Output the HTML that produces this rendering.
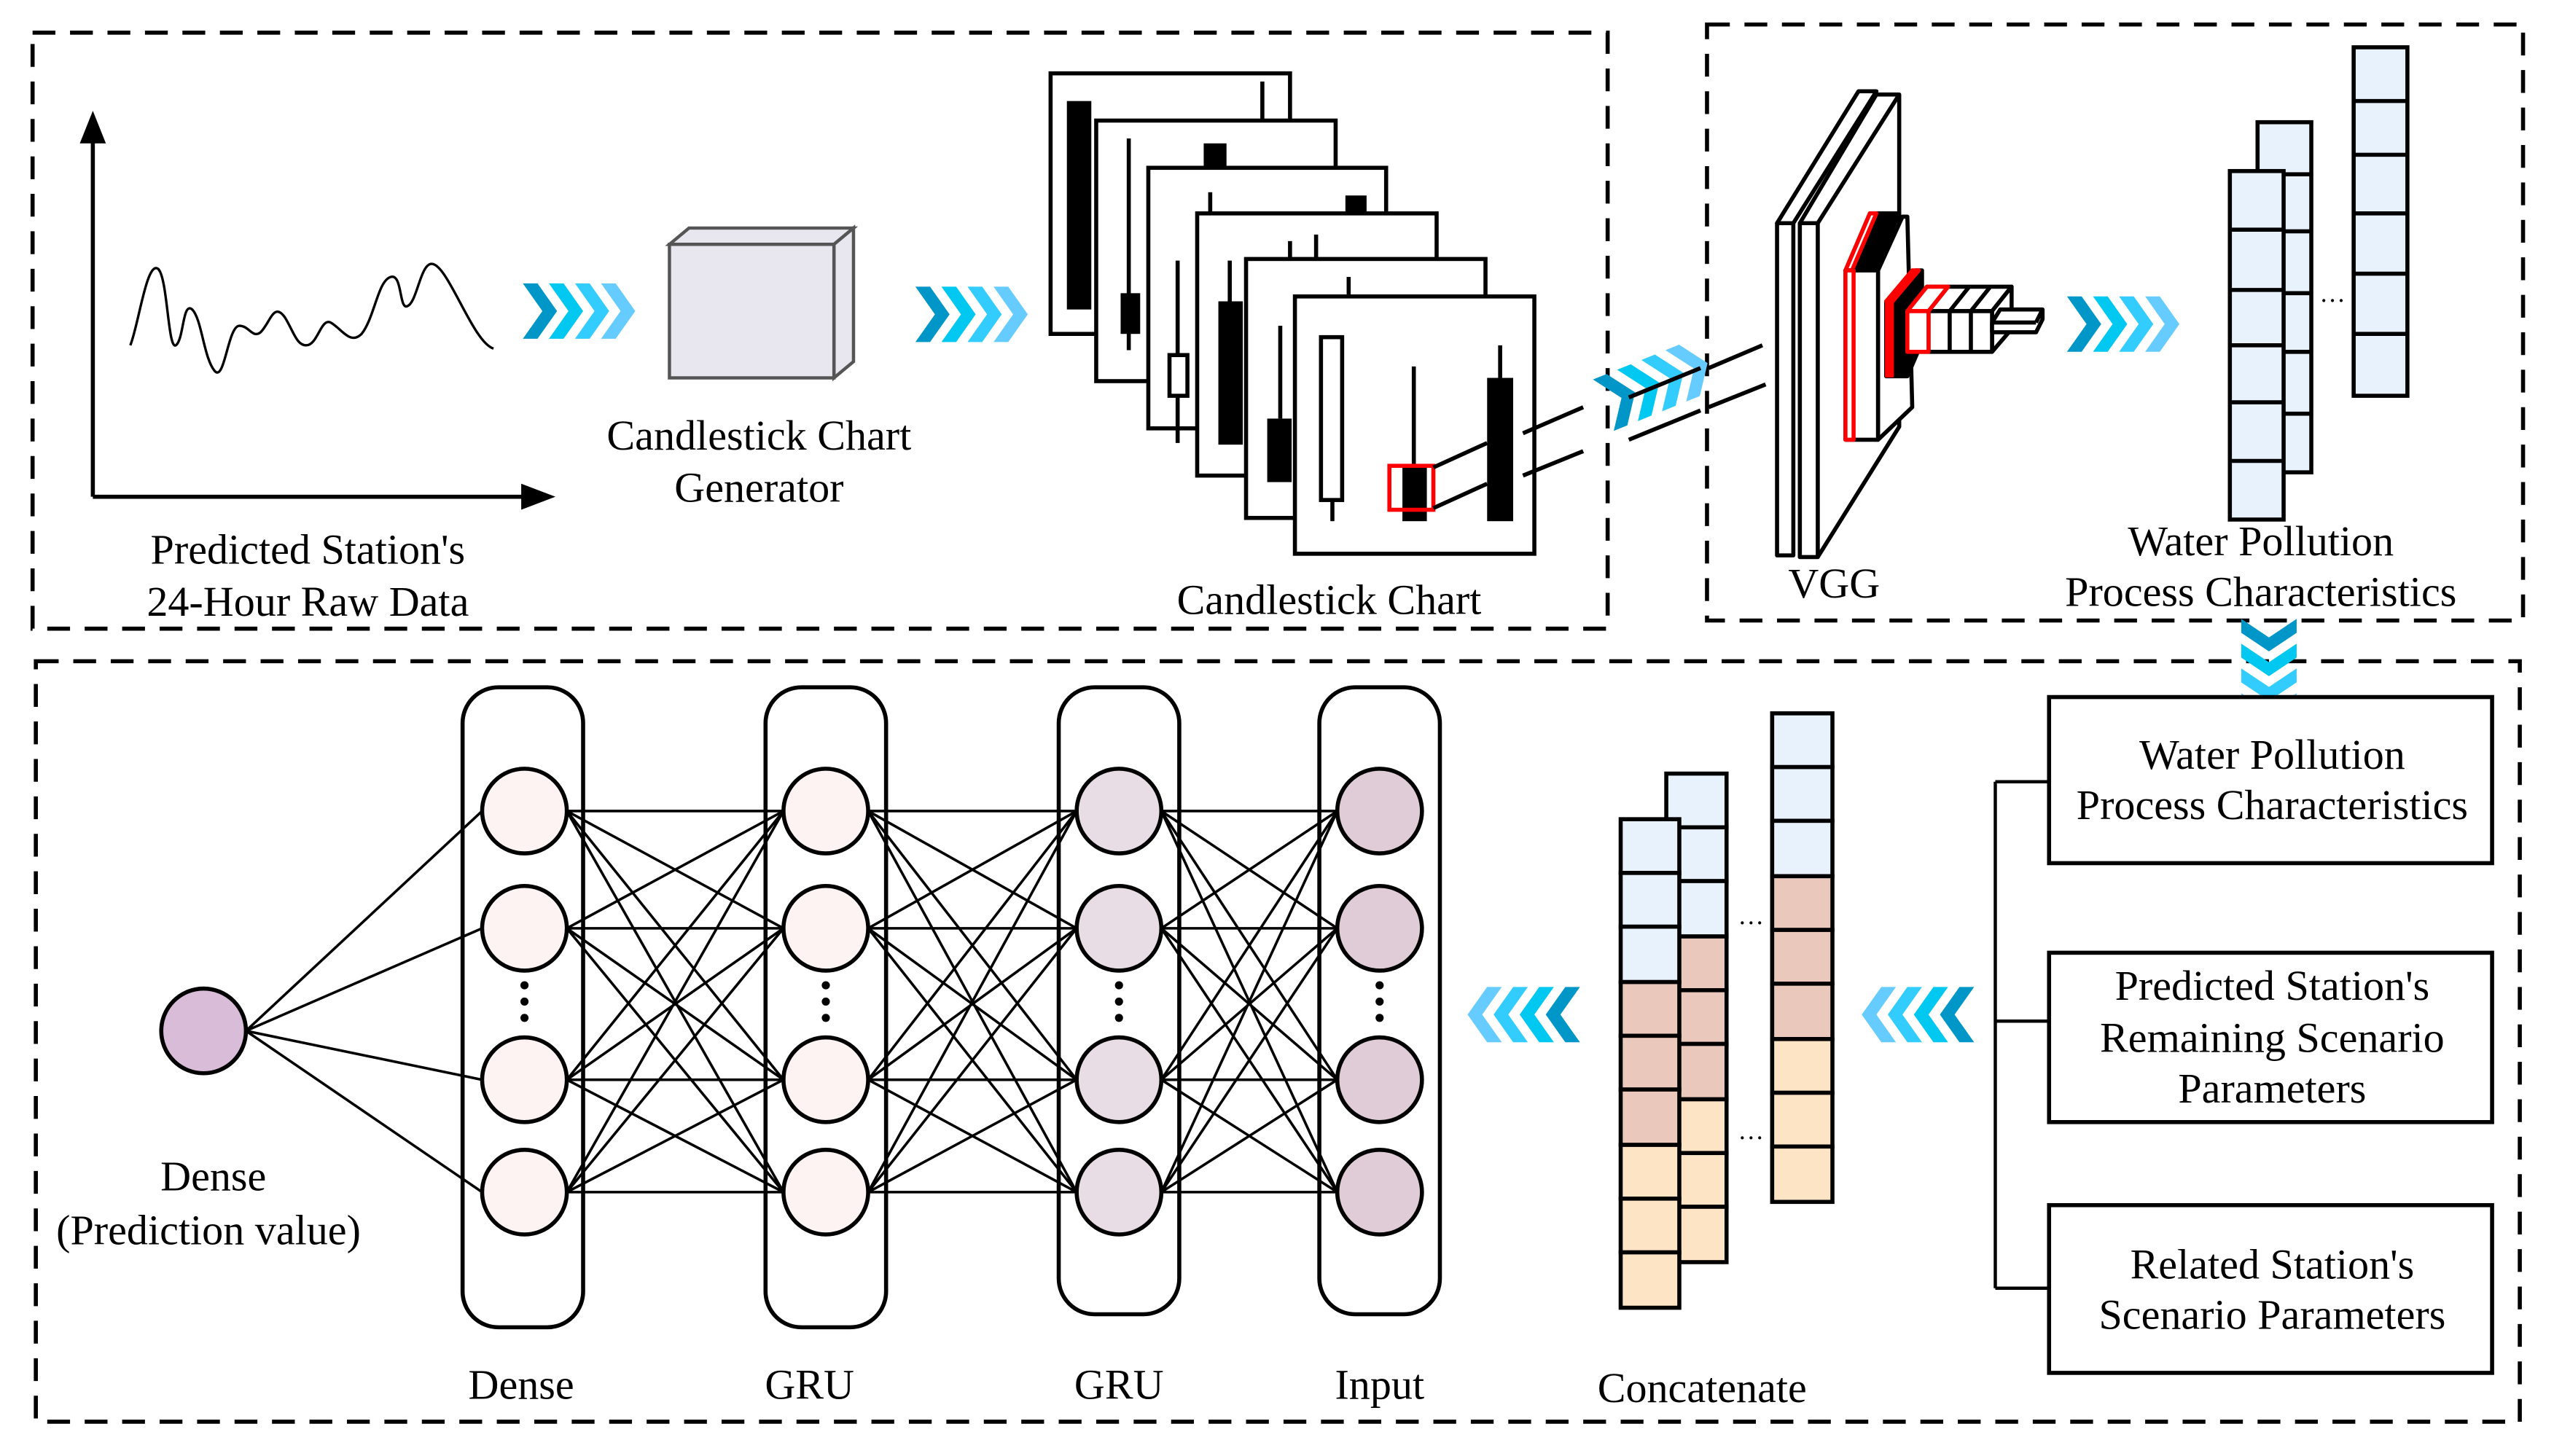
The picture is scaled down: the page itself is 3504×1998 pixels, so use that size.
<!DOCTYPE html>
<html><head><meta charset="utf-8"><style>
html,body{margin:0;padding:0;background:#fff;}
svg{display:block;}
text{font-family:"Liberation Serif",serif;fill:#000;}
</style></head><body>
<svg width="3504" height="1998" viewBox="0 0 1568 894" xmlns="http://www.w3.org/2000/svg">
<defs>
<g id="chev">
<polygon points="0,0 9,0 21,17 9,34 0,34 12,17" fill="#0096C8"/>
<polygon points="16,0 25,0 37,17 25,34 16,34 28,17" fill="#00C8F0"/>
<polygon points="32,0 41,0 53,17 41,34 32,34 44,17" fill="#33CCFF"/>
<polygon points="48,0 57,0 69,17 57,34 48,34 60,17" fill="#66CCFF"/>
</g>
</defs>
<rect width="1568" height="894" fill="#fff"/>
<g fill="none" stroke="#000" stroke-width="2.5" stroke-dasharray="14,9">
<rect x="20" y="20" width="967" height="366"/>
<rect x="1048" y="15" width="501" height="366"/>
<rect x="22" y="406" width="1525" height="467"/>
</g>
<g stroke="#000" stroke-width="2.5" fill="none">
<line x1="57" y1="305" x2="57" y2="82"/>
<line x1="57" y1="305" x2="326" y2="305"/>
</g>
<polygon points="57,68 49,88 65,88" fill="#000"/>
<polygon points="341,305 320,297 320,313" fill="#000"/>
<path d="M80 212 C85 200 90 160 97 165 C103 170 103 215 108 212 C113 208 112 185 118 190 C124 196 125 220 132 228 C138 234 140 200 147 200 C153 200 155 208 160 204 C166 198 168 185 175 195 C180 203 182 212 188 212 C195 212 197 195 203 198 C210 202 215 212 222 205 C230 195 232 172 240 170 C247 168 245 190 250 188 C256 186 258 162 265 162 C275 162 290 210 303 214" fill="none" stroke="#000" stroke-width="1.5"/>
<text x="189" y="346" font-size="26" text-anchor="middle">Predicted Station's</text>
<text x="189" y="378" font-size="26" text-anchor="middle">24-Hour Raw Data</text>
<use href="#chev" x="321" y="174"/>
<g stroke="#555" stroke-width="2" fill="#e8e6ee">
<polygon points="411,150 423,140 524,140 512,150"/>
<polygon points="512,150 524,140 524,222 512,232"/>
<rect x="411" y="150" width="101" height="82"/>
</g>
<text x="466" y="276" font-size="26" text-anchor="middle">Candlestick Chart</text>
<text x="466" y="308" font-size="26" text-anchor="middle">Generator</text>
<use href="#chev" x="562" y="176"/>
<g stroke="#000" stroke-width="2.5" fill="#fff">
<rect x="645" y="45" width="147" height="160"/>
<rect x="655" y="62" width="15" height="128" fill="#000" stroke="none"/>
<line x1="775" y1="50" x2="775" y2="74"/>
<rect x="673" y="74" width="147" height="160"/>
<line x1="693" y1="85" x2="693" y2="215"/>
<rect x="688" y="180" width="12" height="25" fill="#000" stroke="none"/>
<rect x="739" y="88" width="14" height="16" fill="#000" stroke="none"/>
<rect x="705" y="103" width="146" height="160"/>
<line x1="723" y1="160" x2="723" y2="272"/>
<rect x="718" y="218" width="11" height="25"/>
<rect x="826" y="120" width="13" height="12" fill="#000" stroke="none"/>
<line x1="743" y1="118" x2="743" y2="131"/>
<rect x="735" y="131" width="147" height="161"/>
<line x1="755" y1="160" x2="755" y2="185"/>
<rect x="748" y="185" width="15" height="88" fill="#000" stroke="none"/>
<line x1="792" y1="148" x2="792" y2="159"/>
<line x1="808" y1="144" x2="808" y2="159"/>
<rect x="765" y="159" width="147" height="159"/>
<line x1="786" y1="200" x2="786" y2="257"/>
<rect x="778" y="257" width="15" height="39" fill="#000" stroke="none"/>
<line x1="828" y1="170" x2="828" y2="182"/>
<rect x="795" y="182" width="147" height="158"/>
<line x1="818" y1="307" x2="818" y2="320"/>
<rect x="811" y="207" width="13" height="100"/>
<line x1="868" y1="225" x2="868" y2="285"/>
<rect x="861" y="285" width="15" height="35" fill="#000" stroke="none"/>
<line x1="921" y1="212" x2="921" y2="232"/>
<rect x="913" y="232" width="16" height="88" fill="#000" stroke="none"/>
</g>
<rect x="853" y="286" width="27" height="27" fill="none" stroke="#f00" stroke-width="2.5"/>
<g stroke="#000" stroke-width="2.5">
<line x1="880" y1="287" x2="913" y2="272"/>
<line x1="880" y1="312" x2="913" y2="297"/>
<line x1="935" y1="266" x2="972" y2="250"/>
<line x1="935" y1="292" x2="972" y2="277"/>
</g>
<text x="816" y="377" font-size="26" text-anchor="middle">Candlestick Chart</text>
<g transform="translate(978,233) rotate(-22)"><use href="#chev" x="0" y="0"/></g>
<g stroke="#000" stroke-width="2.5">
<line x1="1000" y1="244" x2="1044" y2="226"/>
<line x1="1000" y1="270" x2="1044" y2="252"/>
<line x1="1049" y1="226" x2="1082" y2="212"/>
<line x1="1049" y1="250" x2="1084" y2="236"/>
</g>
<g stroke="#000" stroke-width="2.5" fill="#fff" stroke-linejoin="round">
<polygon points="1105,137 1152,58 1166,58 1166,262 1116,342 1105,342"/>
<line x1="1105" y1="137" x2="1116" y2="137"/><line x1="1116" y1="137" x2="1166" y2="58"/>
<rect x="1105" y="137" width="11" height="205"/>
<polygon points="1091,137 1141,56 1152,56 1101,137"/>
<rect x="1091" y="137" width="10" height="204"/>
<polygon points="1153,166 1168,133 1171,133 1174,250 1153,270"/>
<polygon points="1133,166 1148,131 1166,131 1151,166" fill="#000"/>
<polygon points="1133,166 1148,131 1152,131 1137,166" stroke="#f00"/>
<rect x="1133" y="166" width="20" height="104" fill="#fff"/>
<rect x="1133" y="166" width="5" height="104" stroke="#f00"/>
<polygon points="1158,185 1176,166 1180,166 1180,210 1171,231 1158,231" fill="#000"/>
<polygon points="1158,185 1174,166 1178,166 1162,185" stroke="#f00" fill="#f00"/>
<rect x="1158" y="185" width="4" height="46" fill="#f00" stroke="#f00" stroke-width="1.5"/>
<polygon points="1171,191 1183,176 1235,176 1223,191"/>
<polygon points="1223,191 1235,176 1235,202 1223,216"/>
<rect x="1171" y="191" width="52" height="25"/>
<line x1="1184" y1="191" x2="1184" y2="216"/><line x1="1197" y1="191" x2="1197" y2="216"/><line x1="1210" y1="191" x2="1210" y2="216"/>
<line x1="1184" y1="191" x2="1196" y2="176"/><line x1="1197" y1="191" x2="1209" y2="176"/><line x1="1210" y1="191" x2="1222" y2="176"/>
<polygon points="1171,191 1183,176 1196,176 1184,191" stroke="#f00"/>
<rect x="1171" y="191" width="13" height="25" stroke="#f00"/>
<polygon points="1223,198 1228,190 1254,190 1254,196 1250,204 1223,204"/>
<line x1="1223" y1="198" x2="1250" y2="198"/><line x1="1250" y1="198" x2="1254" y2="190"/>
</g>
<text x="1126" y="367" font-size="26" text-anchor="middle">VGG</text>
<use href="#chev" x="1269" y="182"/>
<g stroke="#000" stroke-width="2.5" fill="#e8f2fc">
<rect x="1445" y="29" width="33" height="214"/>
<line x1="1445" y1="62" x2="1478" y2="62"/><line x1="1445" y1="95" x2="1478" y2="95"/><line x1="1445" y1="131" x2="1478" y2="131"/><line x1="1445" y1="168" x2="1478" y2="168"/><line x1="1445" y1="205" x2="1478" y2="205"/>
<rect x="1386" y="75" width="33" height="215"/>
<line x1="1401" y1="107" x2="1419" y2="107"/><line x1="1401" y1="142" x2="1419" y2="142"/><line x1="1401" y1="180" x2="1419" y2="180"/><line x1="1401" y1="216" x2="1419" y2="216"/><line x1="1401" y1="254" x2="1419" y2="254"/>
<rect x="1369" y="105" width="33" height="214"/>
<line x1="1369" y1="141" x2="1402" y2="141"/><line x1="1369" y1="178" x2="1402" y2="178"/><line x1="1369" y1="212" x2="1402" y2="212"/><line x1="1369" y1="247" x2="1402" y2="247"/><line x1="1369" y1="283" x2="1402" y2="283"/>
</g>
<text x="1432" y="190" font-size="16" text-anchor="middle">···</text>
<text x="1388" y="341" font-size="26" text-anchor="middle">Water Pollution</text>
<text x="1388" y="372" font-size="26" text-anchor="middle">Process Characteristics</text>
<g transform="translate(1410,380) rotate(90)"><use href="#chev" x="0" y="0" transform="scale(0.95,1)"/></g>
<g stroke="#000" stroke-width="2.5" fill="#fff">
<rect x="1258" y="428" width="272" height="102"/>
<rect x="1258" y="585" width="272" height="104"/>
<rect x="1258" y="740" width="272" height="103"/>
</g>
<g stroke="#000" stroke-width="2" fill="none">
<line x1="1225" y1="480" x2="1225" y2="791"/>
<line x1="1225" y1="480" x2="1258" y2="480"/>
<line x1="1225" y1="627" x2="1258" y2="627"/>
<line x1="1225" y1="791" x2="1258" y2="791"/>
</g>
<text x="1395" y="472" font-size="26" text-anchor="middle">Water Pollution</text>
<text x="1395" y="503" font-size="26" text-anchor="middle">Process Characteristics</text>
<text x="1395" y="614" font-size="26" text-anchor="middle">Predicted Station's</text>
<text x="1395" y="646" font-size="26" text-anchor="middle">Remaining Scenario</text>
<text x="1395" y="677" font-size="26" text-anchor="middle">Parameters</text>
<text x="1395" y="785" font-size="26" text-anchor="middle">Related Station's</text>
<text x="1395" y="816" font-size="26" text-anchor="middle">Scenario Parameters</text>
<g transform="translate(1212,640) rotate(180)"><use href="#chev"/></g>
<g transform="translate(970,640) rotate(180)"><use href="#chev"/></g>
<g stroke="#000" stroke-width="2.5">
<g fill="#e8f2fc"><rect x="1088" y="438" width="37" height="33"/><rect x="1088" y="471" width="37" height="33"/><rect x="1088" y="504" width="37" height="34"/></g>
<g fill="#ebc8bc"><rect x="1088" y="538" width="37" height="33"/><rect x="1088" y="571" width="37" height="33"/><rect x="1088" y="604" width="37" height="34"/></g>
<g fill="#fde4c4"><rect x="1088" y="638" width="37" height="33"/><rect x="1088" y="671" width="37" height="33"/><rect x="1088" y="704" width="37" height="34"/></g>
<g fill="#e8f2fc"><rect x="1023" y="475" width="37" height="33"/><rect x="1023" y="508" width="37" height="33"/><rect x="1023" y="541" width="37" height="34"/></g>
<g fill="#ebc8bc"><rect x="1023" y="575" width="37" height="33"/><rect x="1023" y="608" width="37" height="33"/><rect x="1023" y="641" width="37" height="34"/></g>
<g fill="#fde4c4"><rect x="1023" y="675" width="37" height="33"/><rect x="1023" y="708" width="37" height="33"/><rect x="1023" y="741" width="37" height="34"/></g>
<g fill="#e8f2fc"><rect x="995" y="503" width="36" height="33"/><rect x="995" y="536" width="36" height="33"/><rect x="995" y="569" width="36" height="34"/></g>
<g fill="#ebc8bc"><rect x="995" y="603" width="36" height="33"/><rect x="995" y="636" width="36" height="33"/><rect x="995" y="669" width="36" height="34"/></g>
<g fill="#fde4c4"><rect x="995" y="703" width="36" height="33"/><rect x="995" y="736" width="36" height="33"/><rect x="995" y="769" width="36" height="34"/></g>
</g>
<text x="1075" y="572" font-size="16" text-anchor="middle">···</text>
<text x="1075" y="704" font-size="16" text-anchor="middle">···</text>
<text x="1045" y="861" font-size="26" text-anchor="middle">Concatenate</text>
<g fill="none" stroke="#000" stroke-width="2.5">
<rect x="284" y="422" width="74" height="393" rx="22"/>
<rect x="470" y="422" width="74" height="393" rx="22"/>
<rect x="650" y="422" width="74" height="385" rx="22"/>
<rect x="810" y="422" width="74" height="385" rx="22"/>
</g>
<g stroke="#000" stroke-width="1.6" fill="none">
<path d="M151 633L296 498M151 633L296 570M151 633L296 663M151 633L296 732"/>
<path d="M348 498L481 498M348 498L481 570M348 498L481 663M348 498L481 732M348 570L481 498M348 570L481 570M348 570L481 663M348 570L481 732M348 663L481 498M348 663L481 570M348 663L481 663M348 663L481 732M348 732L481 498M348 732L481 570M348 732L481 663M348 732L481 732"/>
<path d="M533 498L661 498M533 498L661 570M533 498L661 663M533 498L661 732M533 570L661 498M533 570L661 570M533 570L661 663M533 570L661 732M533 663L661 498M533 663L661 570M533 663L661 663M533 663L661 732M533 732L661 498M533 732L661 570M533 732L661 663M533 732L661 732"/>
<path d="M713 498L821 498M713 498L821 570M713 498L821 663M713 498L821 732M713 570L821 498M713 570L821 570M713 570L821 663M713 570L821 732M713 663L821 498M713 663L821 570M713 663L821 663M713 663L821 732M713 732L821 498M713 732L821 570M713 732L821 663M713 732L821 732"/>
</g>
<g stroke="#000" stroke-width="2.5">
<circle cx="125" cy="633" r="26" fill="#d8bcd8"/>
<g fill="#fdf3f2"><circle cx="322" cy="498" r="26"/><circle cx="322" cy="570" r="26"/><circle cx="322" cy="663" r="26"/><circle cx="322" cy="732" r="26"/></g>
<g fill="#fdf3f2"><circle cx="507" cy="498" r="26"/><circle cx="507" cy="570" r="26"/><circle cx="507" cy="663" r="26"/><circle cx="507" cy="732" r="26"/></g>
<g fill="#e8dde5"><circle cx="687" cy="498" r="26"/><circle cx="687" cy="570" r="26"/><circle cx="687" cy="663" r="26"/><circle cx="687" cy="732" r="26"/></g>
<g fill="#dfccd6"><circle cx="847" cy="498" r="26"/><circle cx="847" cy="570" r="26"/><circle cx="847" cy="663" r="26"/><circle cx="847" cy="732" r="26"/></g>
</g>
<g fill="#000">
<circle cx="322" cy="605" r="2.5"/><circle cx="322" cy="615" r="2.5"/><circle cx="322" cy="625" r="2.5"/>
<circle cx="507" cy="605" r="2.5"/><circle cx="507" cy="615" r="2.5"/><circle cx="507" cy="625" r="2.5"/>
<circle cx="687" cy="605" r="2.5"/><circle cx="687" cy="615" r="2.5"/><circle cx="687" cy="625" r="2.5"/>
<circle cx="847" cy="605" r="2.5"/><circle cx="847" cy="615" r="2.5"/><circle cx="847" cy="625" r="2.5"/>
</g>
<text x="131" y="731" font-size="26" text-anchor="middle">Dense</text>
<text x="128" y="764" font-size="26" text-anchor="middle">(Prediction value)</text>
<text x="320" y="859" font-size="26" text-anchor="middle">Dense</text>
<text x="497" y="859" font-size="26" text-anchor="middle">GRU</text>
<text x="687" y="859" font-size="26" text-anchor="middle">GRU</text>
<text x="847" y="859" font-size="26" text-anchor="middle">Input</text>
</svg>
</body></html>
